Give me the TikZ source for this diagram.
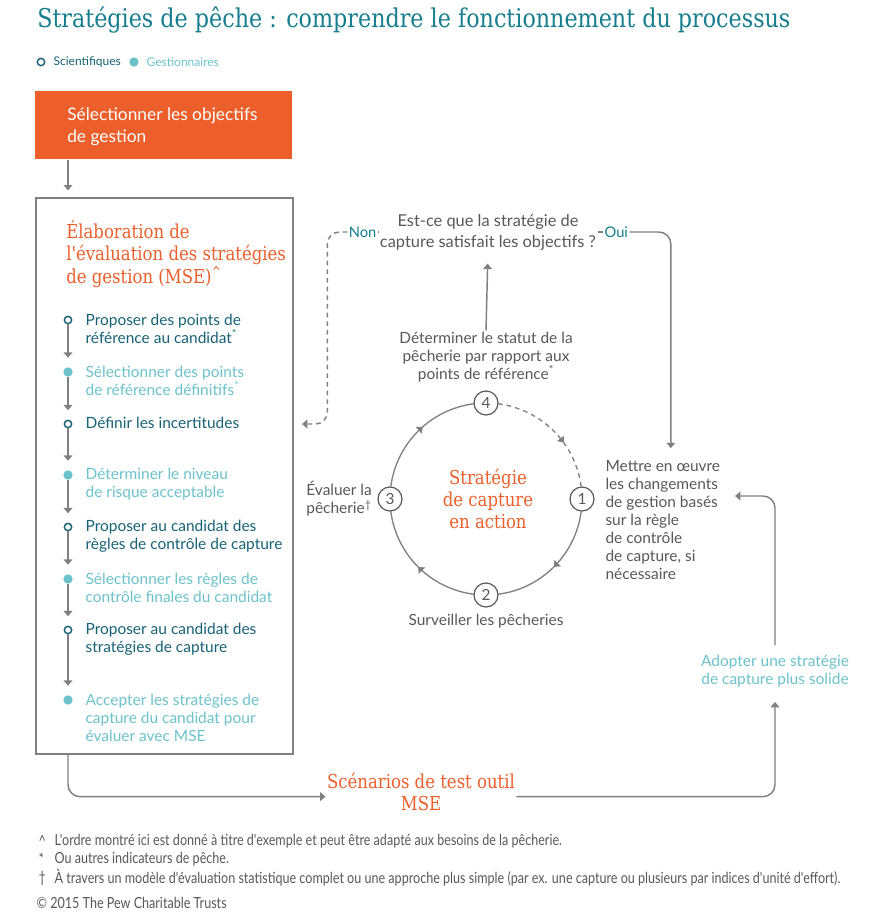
\documentclass[tikz,border=0pt]{standalone}
\usepackage{fontspec}
\setmainfont{Lato}
\newfontfamily\slabfont[FakeStretch=0.86]{DejaVu Serif}
\newfontfamily\narrowfont[FakeStretch=0.82]{Lato}
\usetikzlibrary{arrows.meta,calc,positioning,decorations.markings}
\definecolor{pewteal}{RGB}{22,126,143}
\definecolor{sciteal}{RGB}{24,98,118}
\definecolor{gesteal}{RGB}{108,194,203}
\definecolor{peworange}{RGB}{236,94,42}
\definecolor{pewgray}{RGB}{88,88,88}
\definecolor{pewline}{RGB}{128,128,128}

\begin{document}
\begin{tikzpicture}[x=0.75pt,y=-0.75pt,>={Triangle[width=6.5pt,length=4pt]},
  every node/.style={inner sep=1pt},
  bodytxt/.style={font=\fontsize{11.6}{13.5}\selectfont,align=left},
  scitxt/.style={bodytxt,text=sciteal},
  gestxt/.style={bodytxt,text=gesteal},
  graytxt/.style={bodytxt,text=pewgray},
  slabtxt/.style={font=\slabfont\fontsize{14.4}{16.8}\selectfont,text=peworange},
  foottxt/.style={font=\narrowfont\fontsize{11.5}{11.5}\selectfont,text=pewgray,anchor=west},
  arr/.style={->,draw=pewline,line width=1.1pt},
  cycline/.style={draw=pewline,line width=1pt},
  dashline/.style={dash pattern=on 3.5pt off 3pt},
  sci/.style={circle,draw=sciteal,line width=1.1pt,minimum size=5.5pt,inner sep=0pt},
  ges/.style={circle,fill=gesteal,minimum size=7pt,inner sep=0pt},
  stepnum/.style={circle,draw=pewgray,line width=0.9pt,minimum size=18pt,inner sep=0pt,
    font=\fontsize{11.5}{11.5}\selectfont,text=pewgray},
  midarrow/.style={postaction={decorate,decoration={markings,mark=at position #1 with {\arrow{>}}}}},
]
  \useasboundingbox (0,0) rectangle (888,914);

  % title and legend
  \node[anchor=base west,inner sep=0,text=pewteal,font=\slabfont\fontsize{19.4}{19.4}\selectfont] (title) at (37,27)
    {Stratégies de pêche : comprendre le fonctionnement du processus};
  \node[sci] (legsci) at (41,62) {};
  \node[anchor=west,text=sciteal,font=\fontsize{9}{9}\selectfont] (legscit) at (52,62) {Scientifiques};
  \node[ges] (legges) at (134,62) {};
  \node[anchor=west,text=gesteal,font=\fontsize{9}{9}\selectfont] (leggest) at (145,62) {Gestionnaires};

  % objectives and MSE box
  \node[fill=peworange,minimum width=192.75pt,minimum height=51pt,anchor=north west,inner sep=0] (sel) at (35,91) {};
  \node[anchor=west,inner sep=0,text=white,align=left,font=\fontsize{13}{16.5}\selectfont] (seltxt) at (67,127)
    {Sélectionner les objectifs\\de gestion};
  \node[draw=pewline,line width=1.5pt,minimum width=192.75pt,minimum height=417pt,anchor=north west,inner sep=0] (mse) at (35,197) {};
  \node[slabtxt,anchor=west,align=left,inner sep=0] (msehead) at (66,254)
    {Élaboration de\\l'évaluation des stratégies\\de gestion (MSE)\textsuperscript{\textasciicircum}};

  \node[sci] (mk1) at (68,320) {};
  \node[scitxt,anchor=west] (t1) at (84,329) {Proposer des points de\\référence au candidat\textsuperscript{*}};
  \node[ges] (mk2) at (68,372) {};
  \node[gestxt,anchor=west] (t2) at (84,381) {Sélectionner des points\\de référence définitifs\textsuperscript{*}};
  \node[sci] (mk3) at (68,424) {};
  \node[scitxt,anchor=west] (t3) at (84,423) {Définir les incertitudes};
  \node[ges] (mk4) at (68,475) {};
  \node[gestxt,anchor=west] (t4) at (84,484) {Déterminer le niveau\\de risque acceptable};
  \node[sci] (mk5) at (68,527) {};
  \node[scitxt,anchor=west] (t5) at (84,536) {Proposer au candidat des\\règles de contrôle de capture};
  \node[ges] (mk6) at (68,579) {};
  \node[gestxt,anchor=west] (t6) at (84,588) {Sélectionner les règles de\\contrôle finales du candidat};
  \node[sci] (mk7) at (68,630) {};
  \node[scitxt,anchor=west] (t7) at (84,639) {Proposer au candidat des\\stratégies de capture};
  \node[ges] (mk8) at (68,700) {};
  \node[gestxt,anchor=west] (t8) at (84,718) {Accepter les stratégies de\\capture du candidat pour\\évaluer avec MSE};

  \draw[arr,shorten >=5pt] (sel.south -| mk1) -- (mse.north -| mk1);
  \draw[arr,shorten >=7pt] (mk1) -- (mk2);
  \draw[arr,shorten >=7pt] (mk2) -- (mk3);
  \draw[arr,shorten >=7pt] (mk3) -- (mk4);
  \draw[arr,shorten >=7pt] (mk4) -- (mk5);
  \draw[arr,shorten >=7pt] (mk5) -- (mk6);
  \draw[arr,shorten >=7pt] (mk6) -- (mk7);
  \draw[arr,shorten >=7pt] (mk7) -- (mk8);

  % harvest strategy cycle
  \begin{scope}[shift={(486,499)},x=0.75pt,y=0.75pt]
    \node[stepnum] (n4) at (90:96) {4};
    \node[stepnum] (n1) at (0:96) {1};
    \node[stepnum] (n2) at (270:96) {2};
    \node[stepnum] (n3) at (180:96) {3};
    \draw[cycline,dashline,midarrow=0.62] (82.8:96) arc[start angle=82.8,end angle=7.2,radius=96];
    \draw[cycline,midarrow=0.5] (-7.2:96) arc[start angle=-7.2,end angle=-82.8,radius=96];
    \draw[cycline,midarrow=0.5] (-97.2:96) arc[start angle=-97.2,end angle=-172.8,radius=96];
    \draw[cycline,midarrow=0.55] (172.8:96) arc[start angle=172.8,end angle=97.2,radius=96];
    \node[slabtxt,align=center] (core) at (2,0) {Stratégie\\de capture\\en action};
  \end{scope}

  \node[graytxt,align=center,above=5pt of n4] (statut)
    {Déterminer le statut de la\\pêcherie par rapport aux\\points de référence\textsuperscript{*}};
  \node[graytxt,align=right,left=3pt of n3] (evaluer) {Évaluer la\\pêcherie\textsuperscript{†}};
  \node[graytxt,below=4pt of n2] (surv) {Surveiller les pêcheries};
  \node[graytxt,right=7pt of n1,yshift=-15.75pt] (mettre)
    {Mettre en œuvre\\les changements\\de gestion basés\\sur la règle\\de contrôle\\de capture, si\\nécessaire};

  % decision
  \node[text=pewgray,align=center,font=\fontsize{12.3}{15.75}\selectfont] (quest) at (488,232)
    {Est-ce que la stratégie de\\capture satisfait les objectifs ?};
  \node[anchor=east,text=pewteal,font=\fontsize{11}{11}\selectfont] (non) at (378,232) {Non};
  \node[anchor=west,text=pewteal,font=\fontsize{11}{11}\selectfont] (oui) at (603,232) {Oui};

  \draw[arr,shorten >=9pt] (statut.north) -- (quest.south);
  \draw[cycline,dashline] (quest.west) -- (non.east);
  \draw[arr,dashline,rounded corners=9pt,shorten >=6pt] (non.west) -- ++(-20,0) |- (mse.east |- mk3);
  \draw[cycline] (quest.east) -- (oui.west);
  \draw[arr,rounded corners=9pt,shorten >=8pt] (oui.east) -| ([xshift=6pt]mettre.north);

  % testing loop
  \node[slabtxt,align=center] (scen) at (421,792) {Scénarios de test outil\\MSE};
  \node[gestxt,align=center] (adopt) at (775,671) {Adopter une stratégie\\de capture plus solide};
  \draw[arr,rounded corners=9pt] (mse.south -| mk8) |- ([yshift=-3.5pt]scen.west);
  \draw[arr,rounded corners=9pt,shorten >=10pt] ([yshift=-3.5pt]scen.east) -| (adopt.south);
  \draw[arr,rounded corners=9pt,shorten <=6pt] (adopt.north) |- ([xshift=10pt,yshift=18pt]mettre.east);

  % notes
  \node[foottxt] (fm1) at (37,841) {\textasciicircum};
  \node[foottxt] (fn1) at (53,841) {L'ordre montré ici est donné à titre d'exemple et peut être adapté aux besoins de la pêcherie.};
  \node[foottxt] (fm2) at (37,859) {*};
  \node[foottxt] (fn2) at (53,859) {Ou autres indicateurs de pêche.};
  \node[foottxt] (fm3) at (37,878) {†};
  \node[foottxt] (fn3) at (53,878) {À travers un modèle d'évaluation statistique complet ou une approche plus simple (par ex. une capture ou plusieurs par indices d'unité d'effort).};
  \node[foottxt] (copy) at (35,903) {© 2015 The Pew Charitable Trusts};
\end{tikzpicture}
\end{document}
